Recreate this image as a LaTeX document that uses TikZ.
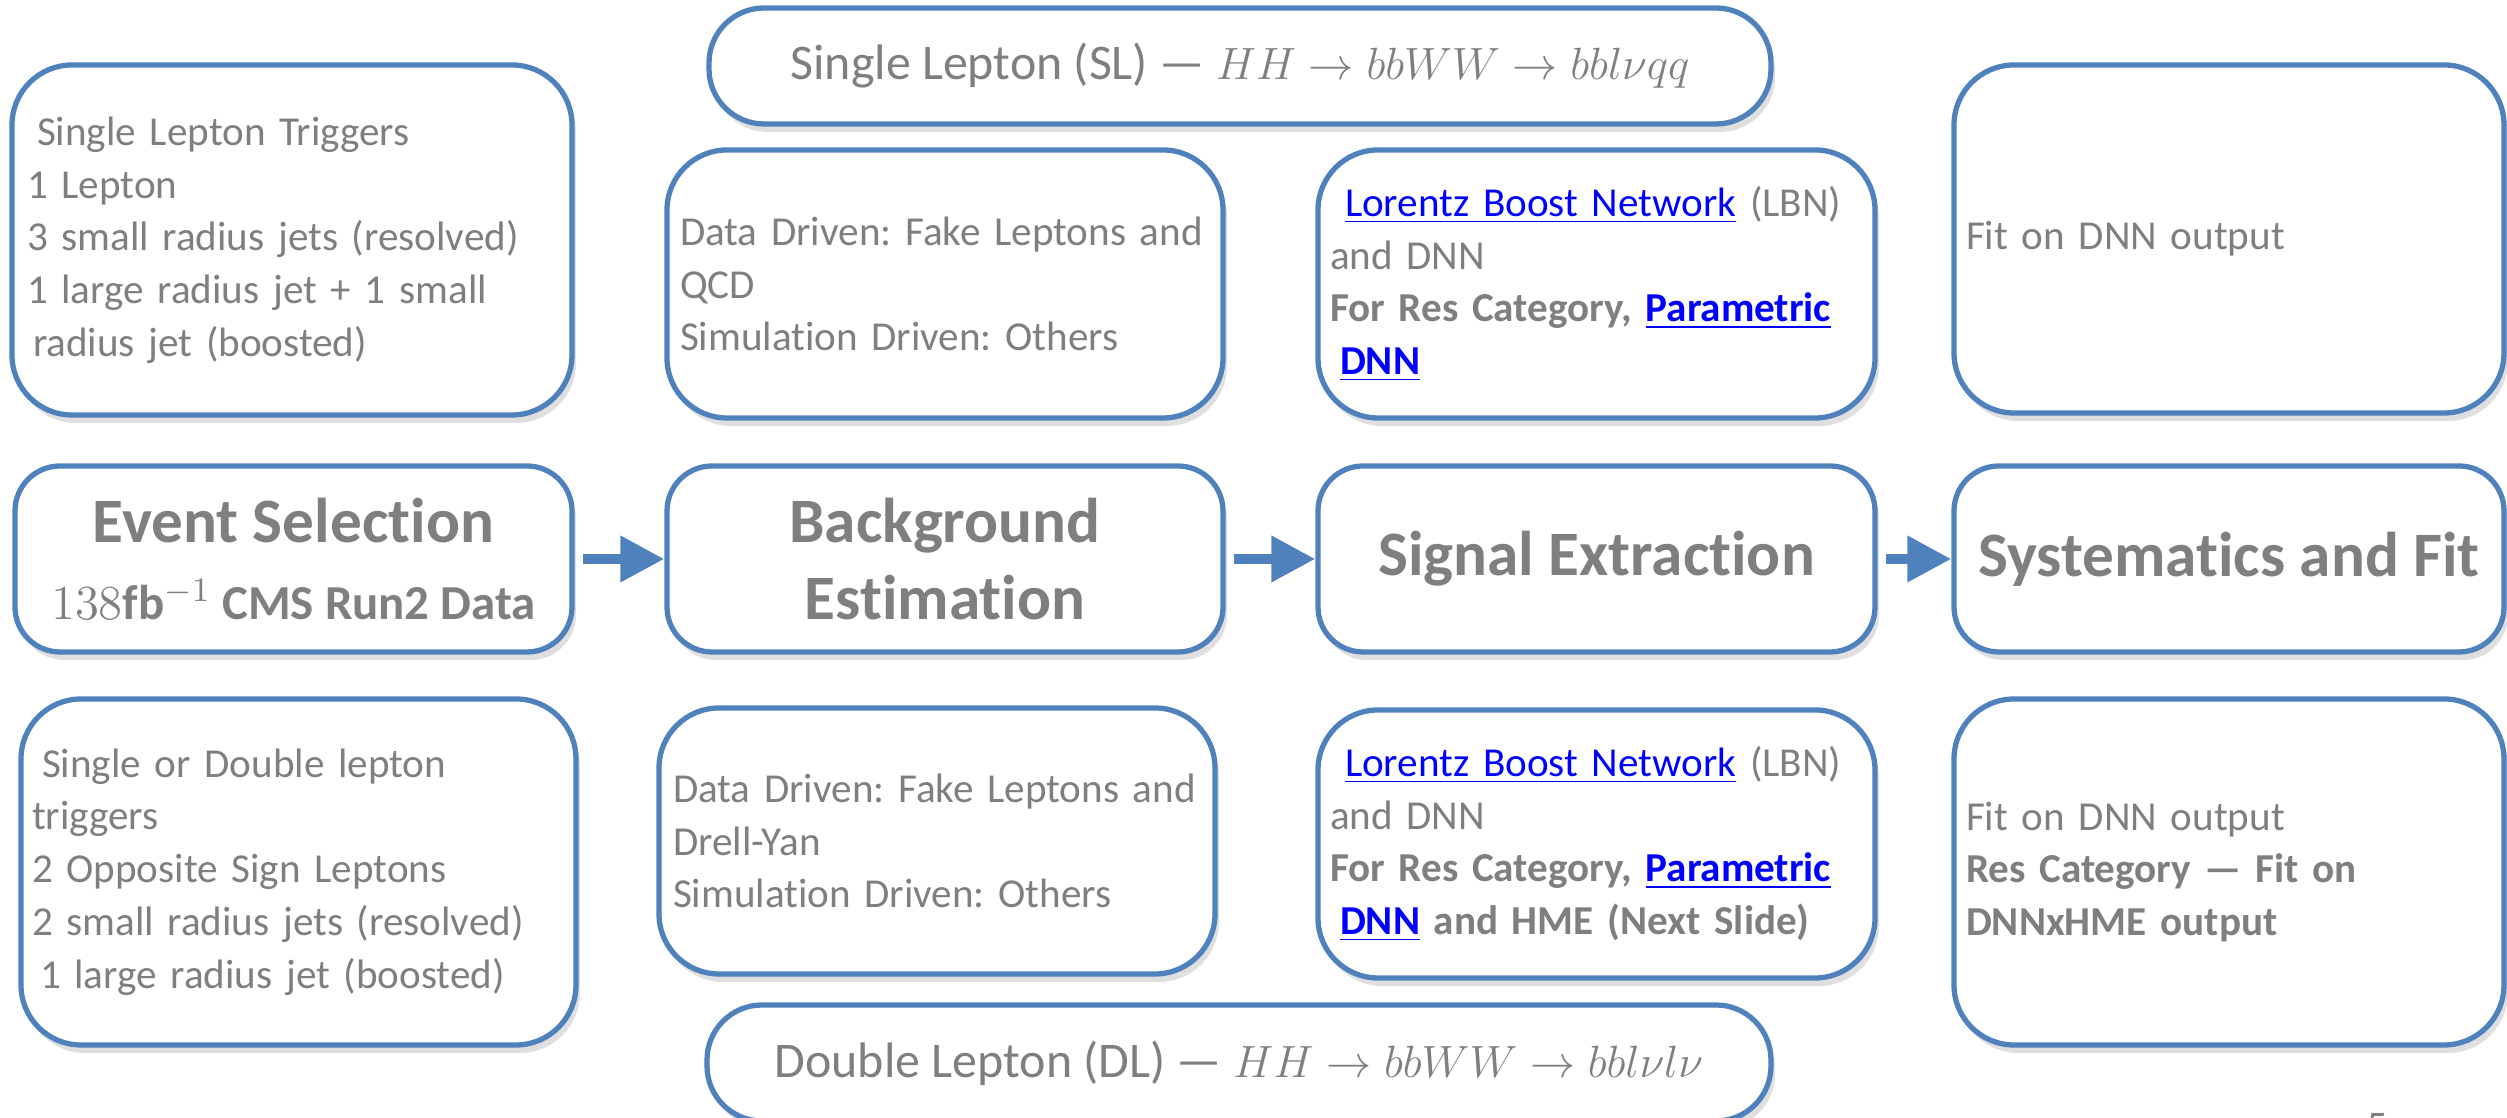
\RequirePackage{fix-cm}
\documentclass[tikz,border=0pt]{standalone}
\usepackage{fontspec}
\setmainfont{Carlito}[Ligatures={TeX,NoCommon}]
\usetikzlibrary{arrows.meta,shadows}
\definecolor{boxblue}{HTML}{4F81BD}
\definecolor{txtgrey}{HTML}{7F7F7F}
\definecolor{linkblue}{HTML}{0000FF}
\newcommand{\lnk}[1]{\textcolor{linkblue}{\underline{#1}}}
\newcommand{\decay}[1]{{\fontsize{12.86}{16}\selectfont$#1$}}
\frenchspacing
\begin{document}
\begin{tikzpicture}[box/.style={draw=boxblue, line width=1.5pt, fill=white,
                        rounded corners=0.6cm, text=txtgrey,
                        drop shadow={shadow xshift=0.4mm, shadow yshift=-0.8mm, opacity=0.25}},
                catbox/.style={box, align=left, font=\fontsize{11.7}{15}\selectfont},
                stagebox/.style={box, rounded corners=0.45cm, align=center,
                        font=\fontsize{18}{22}\selectfont\bfseries},
                chanbox/.style={box, rounded corners=0.55cm, align=center,
                        font=\fontsize{14.2}{16}\selectfont},
                flowarrow/.style={draw=boxblue, line width=0.1cm,
                        -{Triangle[length=0.44cm, width=0.44cm]}, shorten <=0.08cm}]
            % every node/.style = {draw, align=center}
            \useasboundingbox (0,0) rectangle (25.07,11.18);
            % channel banners
            \node[chanbox, minimum width=10.62cm, minimum height=1.16cm] (slchan) at (12.40,10.52)
                {Single Lepton (SL) --- \decay{HH \rightarrow bbWW \rightarrow bbl\nu qq}};
            \node[chanbox, minimum width=10.64cm, minimum height=1.16cm] (dlchan) at (12.39,0.55)
                {Double Lepton (DL) --- \decay{HH \rightarrow bbWW \rightarrow bbl\nu l\nu}};
            % single lepton row
            \node[catbox, minimum width=5.60cm, minimum height=3.50cm, inner xsep=0.15cm,
                    text width=5.30cm] (sltrig) at (2.92,8.78)
                {\hspace{1mm}Single Lepton Triggers\\
                 1 Lepton\\
                 3 small radius jets (resolved)\\
                 1 large radius jet + 1 small\\
                 \hspace{0.6mm}radius jet (boosted)};
            \node[catbox, minimum width=5.56cm, minimum height=2.68cm, inner xsep=0.13cm,
                    text width=5.30cm] (slbkg) at (9.45,8.34)
                {Data Driven: Fake Leptons and\\
                 QCD\\
                 Simulation Driven: Others};
            \node[catbox, minimum width=5.57cm, minimum height=2.68cm, inner xsep=0.12cm,
                    text width=5.33cm] (slsig) at (15.965,8.34)
                {\hspace{1.5mm}\lnk{Lorentz Boost Network} (LBN)\\
                 and DNN\\
                 \textbf{For Res Category, \lnk{Parametric}}\\
                 \hspace{1mm}\textbf{\lnk{DNN}}};
            \node[catbox, minimum width=5.50cm, minimum height=3.48cm, inner xsep=0.12cm,
                    text width=5.26cm] (slfit) at (22.29,8.79)
                {Fit on DNN output};
            % analysis stages
            \node[stagebox, minimum width=5.57cm, minimum height=1.86cm] (evsel) at (2.935,5.59)
                {Event Selection\\
                 {\fontsize{13.9}{22}\selectfont $138$fb$^{-1}$ CMS Run2 Data}};
            \node[stagebox, minimum width=5.56cm, minimum height=1.86cm] (bkgest) at (9.45,5.59)
                {Background\\Estimation};
            \node[stagebox, minimum width=5.57cm, minimum height=1.86cm] (sigext) at (15.965,5.59)
                {Signal Extraction};
            \node[stagebox, minimum width=5.50cm, minimum height=1.86cm] (systfit) at (22.29,5.59)
                {Systematics and Fit};
            % double lepton row
            \node[catbox, minimum width=5.55cm, minimum height=3.46cm, inner xsep=0.11cm,
                    text width=5.33cm] (dltrig) at (2.985,2.46)
                {\hspace{1mm}Single or Double lepton\\
                 triggers\\
                 2 Opposite Sign Leptons\\
                 2 small radius jets (resolved)\\
                 \hspace{0.8mm}1 large radius jet (boosted)};
            \node[catbox, minimum width=5.56cm, minimum height=2.66cm, inner xsep=0.14cm,
                    text width=5.28cm] (dlbkg) at (9.37,2.77)
                {Data Driven: Fake Leptons and\\
                 Drell-Yan\\
                 Simulation Driven: Others};
            \node[catbox, minimum width=5.57cm, minimum height=2.68cm, inner xsep=0.12cm,
                    text width=5.33cm] (dlsig) at (15.965,2.74)
                {\hspace{1.5mm}\lnk{Lorentz Boost Network} (LBN)\\
                 and DNN\\
                 \textbf{For Res Category, \lnk{Parametric}}\\
                 \hspace{1mm}\textbf{\lnk{DNN} and HME (Next Slide)}};
            \node[catbox, minimum width=5.50cm, minimum height=3.46cm, inner xsep=0.12cm,
                    text width=5.26cm] (dlfit) at (22.29,2.46)
                {Fit on DNN output\\
                 \textbf{Res Category --- Fit on}\\
                 \textbf{DNNxHME output}};
            \node[text=txtgrey, font=\fontsize{12}{14}\selectfont, inner sep=0pt, anchor=north]
                (pagenum) at (23.77,0.05) {5};
            % flow
            \draw[flowarrow] (evsel.east) -- (bkgest.west);
            \draw[flowarrow] (bkgest.east) -- (sigext.west);
            \draw[flowarrow] (sigext.east) -- (systfit.west);
\end{tikzpicture}
\end{document}
